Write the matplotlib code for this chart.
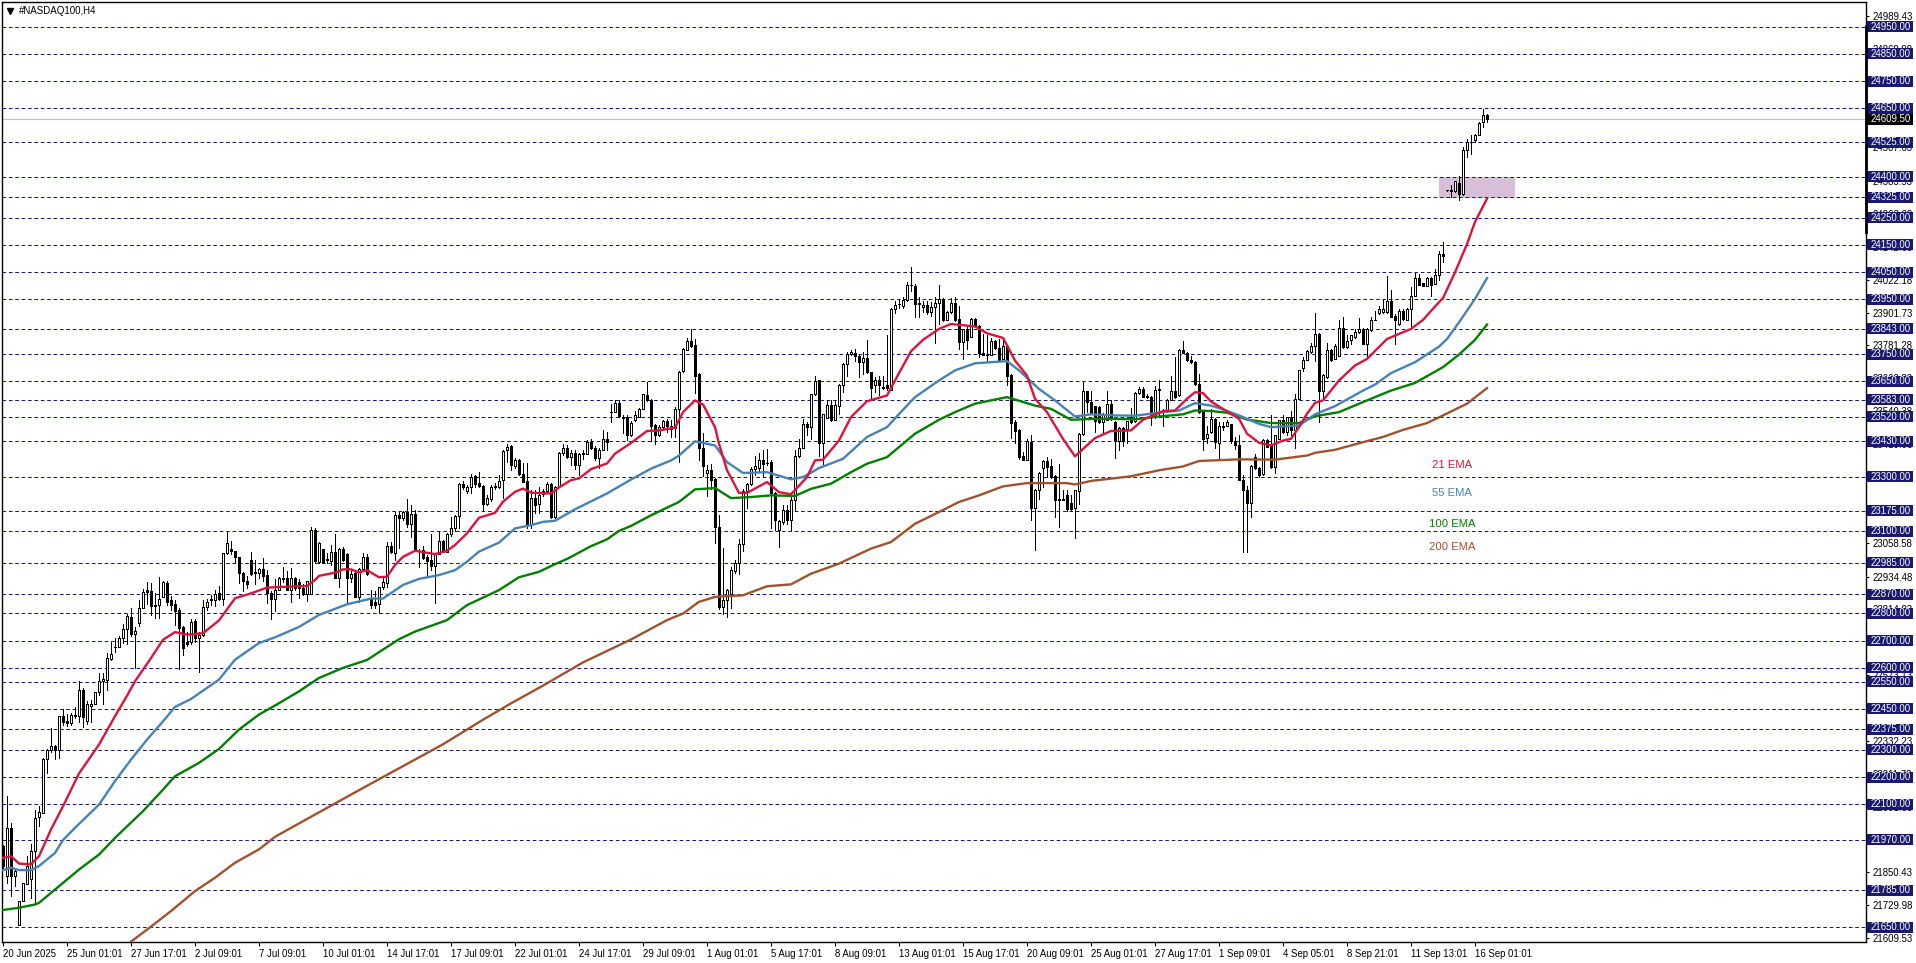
import matplotlib
matplotlib.use("Agg")
import matplotlib.pyplot as plt
from matplotlib.lines import Line2D
from matplotlib.patches import Rectangle
from matplotlib.transforms import blended_transform_factory

candle_open = [
21947,21837,22014,21837,21658,21746,21808,21825,21928,22054,
22069,22266,22300,22315,22300,22422,22404,22398,22428,22422,
22520,22404,22459,22468,22512,22552,22557,22634,22676,22676,
22708,22744,22788,22724,22763,22820,22884,22880,22832,22830,
22860,22910,22848,22833,22811,22748,22696,22693,22770,22710,
22720,22822,22850,22849,22873,22854,23020,23037,23029,23007,
22949,22918,22995,22951,22949,22961,22939,22876,22851,22885,
22930,22930,22887,22930,22915,22894,22872,22872,23104,22989,
23034,22998,22991,23023,22928,23034,23016,22928,22946,22861,
22961,23005,22855,22843,22833,22895,22912,23046,23022,23160,
23148,23172,23126,23163,23030,23032,23007,22995,22974,23017,
23065,23026,23089,23111,23157,23273,23249,23263,23304,23276,
23267,23202,23218,23266,23263,23288,23398,23412,23339,23361,
23312,23284,23123,23224,23199,23249,23249,23272,23154,23266,
23388,23407,23373,23389,23343,23385,23385,23426,23407,23370,
23400,23438,23537,23538,23572,23519,23520,23454,23507,23521,
23549,23601,23582,23491,23455,23482,23503,23488,23480,23549,
23687,23766,23796,23784,23675,23407,23314,23326,23291,23116,
22823,22848,22872,22955,22986,23055,23248,23272,23330,23332,
23360,23351,23354,23242,23104,23134,23180,23141,23216,23376,
23407,23492,23482,23602,23653,23424,23516,23564,23509,23561,
23638,23714,23751,23754,23744,23720,23736,23683,23635,23653,
23626,23635,23619,23915,23933,23927,23948,24004,24001,23936,
23921,23931,23903,23924,23936,23952,23875,23903,23937,23879,
23793,23840,23814,23879,23854,23753,23745,23748,23796,23772,
23732,23781,23674,23500,23472,23375,23363,23427,23187,23250,
23333,23357,23338,23302,23217,23217,23232,23205,23187,23248,
23458,23613,23574,23558,23555,23500,23509,23568,23500,23430,
23479,23476,23521,23503,23608,23622,23596,23594,23519,23620,
23546,23546,23582,23613,23598,23763,23754,23729,23722,23641,
23543,23442,23464,23513,23425,23485,23488,23492,23430,23415,
23289,23253,23204,23372,23333,23309,23436,23415,23336,23439,
23507,23464,23519,23470,23586,23698,23729,23757,23781,23824,
23614,23665,23765,23732,23744,23846,23775,23803,23812,23830,
23842,23785,23838,23876,23899,23903,23903,23946,23891,23860,
23909,23876,23915,23964,24029,24009,24000,24029,24007,24041,
24117,24350,24348,24346,24378,24335,24499,24527,24533,24554,
24600,24627]

candle_close = [
21874,22014,21837,21855,21746,21810,21874,21928,22050,22072,
22266,22300,22312,22300,22422,22400,22398,22428,22422,22520,
22420,22469,22469,22512,22552,22560,22636,22652,22676,22710,
22744,22790,22724,22736,22820,22878,22878,22825,22826,22854,
22915,22842,22830,22809,22745,22674,22689,22768,22711,22720,
22824,22840,22851,22872,22851,23022,23058,23027,23006,22949,
22918,22906,22943,22948,22961,22937,22873,22851,22885,22930,
22924,22887,22930,22894,22892,22870,22918,23105,22992,23059,
22989,22996,23023,22928,23034,22995,22928,22943,22861,22961,
23005,22944,22830,22830,22895,22916,23046,23026,23160,23148,
23172,23126,23163,23032,23028,23004,22993,22974,23017,23065,
23026,23090,23111,23157,23273,23261,23263,23300,23273,23267,
23202,23221,23263,23261,23285,23395,23410,23343,23363,23310,
23282,23123,23224,23196,23235,23237,23272,23154,23263,23388,
23407,23373,23389,23343,23385,23387,23426,23407,23370,23400,
23440,23428,23539,23572,23523,23517,23453,23498,23525,23549,
23602,23580,23488,23452,23482,23503,23488,23476,23549,23683,
23769,23796,23781,23668,23405,23339,23326,23287,23116,22823,
22848,22887,22958,22986,23055,23248,23272,23330,23339,23360,
23348,23350,23241,23141,23137,23180,23141,23216,23378,23407,
23492,23482,23602,23651,23424,23529,23564,23507,23564,23638,
23714,23751,23757,23744,23720,23736,23683,23626,23653,23635,
23628,23626,23915,23931,23935,23948,24004,24004,23934,23934,
23931,23903,23924,23937,23952,23873,23903,23937,23875,23793,
23840,23802,23879,23854,23753,23747,23747,23799,23771,23729,
23779,23669,23497,23468,23372,23363,23430,23186,23253,23314,
23357,23336,23299,23214,23216,23216,23183,23183,23250,23458,
23613,23574,23533,23503,23500,23531,23568,23513,23430,23479,
23430,23503,23500,23607,23622,23594,23594,23519,23619,23618,
23545,23582,23613,23594,23763,23754,23729,23720,23641,23537,
23439,23458,23513,23427,23485,23484,23500,23430,23415,23289,
23253,23204,23339,23332,23305,23436,23411,23336,23452,23507,
23464,23519,23470,23586,23690,23729,23760,23781,23824,23614,
23674,23765,23729,23781,23846,23775,23799,23818,23832,23842,
23787,23842,23875,23876,23915,23915,23946,23887,23873,23909,
23879,23915,23964,24029,24004,24001,24029,24004,24041,24117,
24110,24350,24352,24383,24335,24499,24527,24528,24554,24598,
24627,24609.5]

candle_high = [
21950,22130,22030,21859,21746,21812,21910,21953,22081,22093,
22270,22304,22380,22318,22422,22450,22430,22436,22457,22551,
22526,22478,22484,22512,22580,22582,22654,22694,22710,22716,
22760,22796,22820,22750,22848,22888,22916,22910,22876,22934,
22918,22917,22863,22848,22820,22754,22730,22780,22780,22730,
22848,22854,22866,22884,22900,23022,23100,23065,23030,23007,
22952,22937,23026,22994,22967,23004,22960,22882,22925,22932,
22971,22955,22965,22934,22925,22906,22920,23115,23114,23062,
23036,23020,23050,23090,23038,23044,23020,22960,22958,22965,
23022,23017,22885,22880,22898,22935,23062,23062,23172,23172,
23176,23220,23196,23178,23035,23046,23012,23090,23020,23098,
23070,23095,23151,23160,23276,23285,23270,23310,23308,23316,
23270,23233,23270,23276,23306,23398,23422,23416,23370,23364,
23349,23349,23251,23251,23263,23257,23282,23278,23268,23392,
23420,23416,23398,23398,23388,23398,23434,23440,23412,23407,
23473,23465,23566,23583,23583,23525,23527,23504,23540,23552,
23604,23647,23584,23495,23491,23510,23513,23509,23555,23686,
23772,23808,23842,23805,23680,23460,23344,23348,23295,23159,
23041,22890,22970,22994,23073,23256,23278,23336,23375,23387,
23397,23403,23360,23244,23140,23195,23195,23244,23397,23440,
23513,23500,23604,23668,23655,23531,23582,23582,23582,23640,
23716,23757,23765,23769,23746,23757,23802,23685,23665,23668,
23671,23821,23920,23946,23950,23958,24013,24068,24005,23958,
23945,23946,23940,23960,24004,23955,23909,23955,23960,23927,
23842,23854,23881,23882,23858,23824,23821,23809,23800,23805,
23805,23784,23678,23507,23475,23391,23439,23452,23257,23316,
23360,23372,23366,23305,23346,23253,23250,23232,23253,23460,
23647,23616,23616,23560,23560,23533,23616,23580,23503,23481,
23481,23505,23553,23610,23629,23629,23604,23596,23631,23655,
23549,23585,23668,23738,23767,23799,23757,23744,23725,23677,
23546,23488,23549,23516,23500,23500,23507,23495,23446,23452,
23308,23265,23345,23385,23335,23439,23440,23525,23454,23510,
23525,23521,23543,23602,23692,23738,23765,23790,23900,23826,
23676,23791,23768,23785,23875,23887,23818,23820,23842,23882,
23845,23846,23885,23907,23927,23948,24037,23985,23895,23915,
23915,23917,23997,24046,24043,24012,24032,24032,24062,24129,
24159,24351,24368,24385,24401,24509,24537,24554,24556,24600,
24646,24631]

candle_low = [
21861,21813,21764,21800,21658,21746,21808,21758,21740,22020,
22069,22215,22290,22266,22270,22390,22386,22392,22415,22400,
22384,22396,22400,22468,22500,22468,22520,22630,22660,22676,
22692,22687,22715,22600,22755,22820,22835,22793,22784,22782,
22858,22830,22812,22757,22597,22646,22680,22687,22693,22585,
22715,22812,22830,22827,22848,22830,23018,23018,22988,22912,
22882,22894,22940,22906,22930,22920,22837,22780,22808,22885,
22915,22885,22840,22885,22855,22868,22845,22872,22985,22985,
22985,22985,22977,22928,22897,22990,22836,22916,22858,22843,
22961,22940,22818,22818,22802,22890,22897,23020,22995,23038,
23140,23117,23080,23030,22970,23000,22932,22958,22836,23017,
23024,23026,23085,23100,23111,23255,23242,23240,23263,23262,
23176,23195,23210,23256,23258,23221,23355,23325,23333,23305,
23280,23111,23111,23168,23168,23230,23245,23150,23150,23262,
23379,23370,23343,23330,23306,23367,23383,23403,23362,23334,
23398,23398,23501,23536,23520,23461,23434,23450,23505,23519,
23549,23577,23433,23421,23450,23480,23464,23446,23446,23354,
23685,23764,23776,23607,23360,23303,23230,23256,23058,22817,
22797,22787,22821,22948,22943,23028,23187,23270,23308,23320,
23299,23345,23114,23104,23043,23128,23128,23104,23177,23374,
23405,23454,23439,23600,23378,23346,23514,23505,23507,23530,
23610,23671,23745,23726,23665,23677,23680,23586,23610,23598,
23622,23619,23619,23900,23920,23918,23946,23980,23885,23885,
23903,23897,23891,23790,23860,23870,23873,23901,23872,23769,
23732,23769,23812,23850,23738,23745,23720,23746,23768,23726,
23730,23635,23442,23424,23364,23360,23360,23141,23033,23220,
23263,23299,23297,23153,23116,23214,23175,23180,23077,23202,
23455,23537,23530,23464,23497,23458,23507,23510,23370,23400,
23413,23425,23497,23500,23605,23591,23590,23490,23517,23520,
23485,23544,23580,23590,23595,23752,23726,23718,23638,23534,
23399,23424,23462,23407,23370,23470,23485,23424,23403,23287,
23025,23025,23153,23329,23299,23305,23408,23333,23314,23437,
23461,23452,23452,23407,23584,23687,23727,23755,23724,23500,
23580,23662,23726,23730,23742,23772,23772,23787,23810,23828,
23785,23738,23836,23874,23897,23900,23901,23885,23785,23858,
23876,23874,23854,23962,24002,23998,23998,23964,24005,24023,
24086,24349,24326,24344,24313,24333,24472,24484,24525,24552,
24582,24600]

ema21_bars = [0,2,4,7,9,12,15,19,24,28,31,33,37,40,43,46,50,54,58,62,66,72,76,78,79,83,85,87,89,91,94,96,98,100,103,108,111,113,116,119,123,125,128,130,132,137,139,142,144,147,151,153,157,161,164,168,170,173,175,178,179,181,184,186,191,194,197,201,203,205,209,212,216,221,224,227,230,234,237,243,246,250,253,256,258,261,265,268,273,277,282,285,290,293,296,298,300,302,307,309,311,314,317,320,322,324,326,328,330,334,338,341,346,352,355,358,360,363,366,368,371]
ema21_vals = [21904,21910,21883,21880,21910,22008,22093,22213,22319,22423,22498,22551,22636,22703,22731,22722,22727,22774,22855,22873,22894,22898,22900,22922,22937,22949,22961,22961,22950,22958,22932,22934,22977,23007,23029,23017,23029,23050,23093,23150,23168,23209,23245,23257,23242,23239,23261,23288,23294,23328,23349,23385,23424,23468,23470,23480,23537,23580,23565,23482,23421,23324,23241,23241,23281,23244,23236,23299,23360,23363,23433,23519,23577,23598,23680,23760,23802,23842,23860,23851,23826,23809,23726,23671,23586,23537,23439,23375,23442,23468,23470,23509,23541,23543,23586,23610,23607,23576,23531,23513,23458,23425,23415,23433,23439,23482,23531,23571,23580,23653,23708,23732,23805,23842,23875,23924,23955,24049,24153,24234,24319]

ema55_bars = [0,2,4,7,9,13,15,18,24,28,32,36,40,43,47,54,58,64,68,74,79,86,92,95,100,104,109,113,116,119,124,128,132,135,138,143,151,157,162,167,169,173,178,181,185,191,197,200,204,210,216,221,224,228,234,238,243,251,254,259,263,268,272,278,283,289,294,298,302,304,309,314,317,324,328,333,340,343,347,353,359,361,364,368,371]
ema55_vals = [21859,21868,21859,21859,21874,21922,21969,22014,22099,22185,22264,22337,22404,22457,22486,22557,22630,22691,22712,22750,22794,22833,22854,22854,22904,22926,22940,22958,22989,23026,23059,23111,23123,23135,23139,23181,23239,23290,23330,23360,23378,23430,23415,23354,23314,23317,23291,23299,23332,23366,23446,23482,23530,23592,23653,23690,23716,23724,23690,23622,23580,23521,23529,23525,23524,23535,23543,23570,23561,23552,23525,23494,23482,23488,23529,23559,23616,23638,23680,23720,23777,23805,23866,23952,24028]

ema100_bars = [0,4,8,9,14,19,24,28,35,40,43,49,54,59,64,68,74,79,85,91,99,103,111,116,124,129,134,138,141,147,151,154,157,162,169,173,178,182,187,192,198,202,207,212,216,221,224,228,234,238,243,251,258,262,267,274,283,289,295,298,302,306,311,317,324,328,334,340,347,353,360,364,368,371]
ema100_vals = [21713,21721,21733,21739,21800,21861,21916,21977,22075,22154,22203,22252,22303,22374,22429,22462,22514,22563,22600,22629,22705,22733,22775,22830,22885,22932,22952,22980,22999,23046,23071,23102,23120,23159,23208,23254,23259,23222,23226,23232,23230,23256,23275,23317,23348,23372,23409,23458,23509,23537,23568,23592,23561,23549,23509,23513,23511,23521,23529,23543,23541,23535,23510,23497,23497,23522,23537,23574,23616,23644,23702,23748,23802,23858]

ema200_bars = [32,37,42,48,53,58,64,68,74,90,100,110,120,127,135,145,157,166,170,174,178,185,191,197,202,209,217,222,228,234,239,244,250,256,266,268,272,282,289,295,299,309,318,326,328,333,340,345,350,356,360,366,371]
ema200_vals = [21597,21652,21709,21782,21831,21886,21935,21981,22030,22160,22240,22320,22410,22470,22535,22620,22704,22775,22799,22842,22860,22866,22899,22906,22945,22982,23037,23061,23128,23171,23208,23232,23265,23277,23277,23272,23285,23302,23324,23338,23358,23364,23363,23378,23388,23399,23427,23446,23472,23497,23525,23568,23625]

level_prices = [24950,24850,24750,24650,24525,24400,24325,24250,24150,24050,23950,23843,23750,23650,23583,23520,23430,23300,23175,23100,22985,22870,22800,22700,22600,22550,22450,22375,22300,22200,22100,21970,21785,21650]
axis_ticks = [24989.43,24868.98,24748.53,24628.08,24507.63,24383.53,24263.08,24142.63,24022.18,23901.73,23781.28,23660.83,23540.38,23419.93,23299.48,23179.03,23058.58,22934.48,22814.03,22693.58,22573.13,22452.68,22332.23,22211.78,22091.33,21970.88,21850.43,21729.98,21609.53]
last_price = 24609.50
zone_bars = [359, 378]
zone_prices = [24320, 24400]
date_ticks = [0,16,32,48,64,80,96,112,128,144,160,176,192,208,224,240,256,272,288,304,320,336,352,368]
date_labels = ["20 Jun 2025","25 Jun 01:01","27 Jun 17:01","2 Jul 09:01","7 Jul 09:01","10 Jul 01:01","14 Jul 17:01","17 Jul 09:01","22 Jul 01:01","24 Jul 17:01","29 Jul 09:01","1 Aug 01:01","5 Aug 17:01","8 Aug 09:01","13 Aug 01:01","15 Aug 17:01","20 Aug 09:01","25 Aug 01:01","27 Aug 17:01","1 Sep 09:01","4 Sep 05:01","8 Sep 21:01","11 Sep 13:01","16 Sep 01:01"]
ema_labels = ["21 EMA","55 EMA","100 EMA","200 EMA"]

W, H = 1916, 963
L, R, T, B = 2, 1866, 2, 942
plt.rcParams['font.family'] = ['Liberation Sans', 'DejaVu Sans']
plt.rcParams['lines.scale_dashes'] = False

fig = plt.figure(figsize=(W/100, H/100), dpi=100, facecolor='white')
ax = fig.add_axes([L/W, 1-B/H, (R-L)/W, (B-T)/H])
px = 3.664  # price points per pixel
for s in ax.spines.values():
    s.set_linewidth(1.0); s.set_color('black')

NAVY = '#191970'
ax.add_patch(Rectangle((zone_bars[0], zone_prices[0]), zone_bars[1]-zone_bars[0], zone_prices[1]-zone_prices[0],
                       facecolor='#D8BFD8', edgecolor='none', zorder=1))
for p in level_prices:
    ax.axhline(p, color=NAVY, lw=0.72, ls=(0, (2.6, 2.0)), zorder=1.5)
ax.axhline(last_price, color='#C0C0C0', lw=0.8, zorder=1.5)

n = len(candle_close)
xs = list(range(n))
ax.vlines(xs, candle_low, candle_high, color='black', lw=0.5, zorder=2, antialiased=False)
bott = [min(o, c) for o, c in zip(candle_open, candle_close)]
hgt = [abs(o-c) for o, c in zip(candle_open, candle_close)]
cols = ['white' if c >= o else 'black' for o, c in zip(candle_open, candle_close)]
ax.bar(xs, hgt, width=0.5, bottom=bott, color=cols, edgecolor='black', lw=0.5, zorder=2.2, antialiased=False)

RED, BLUE, GREEN, BROWN = '#DC143C', '#4682B4', '#007F00', '#A0522D'
for bars, vals, col in ((ema200_bars, ema200_vals, BROWN), (ema100_bars, ema100_vals, GREEN),
                        (ema55_bars, ema55_vals, BLUE), (ema21_bars, ema21_vals, RED)):
    ax.plot(bars, vals, color=col, lw=1.7, zorder=3, solid_joinstyle='round')

lab_x = (1452-3)/4
for lab, yp, col in zip(ema_labels, (465, 493, 524, 547), (RED, BLUE, GREEN, BROWN)):
    ax.text(lab_x, 24950-(yp-26.5)*px, lab, color=col, fontsize=8.1, ha='center', va='center', zorder=4)

ax.set_xticks(date_ticks)
ax.set_xticklabels(date_labels, ha='left', fontsize=6.9)
ax.tick_params(axis='x', length=3.2, width=0.8, pad=2, color='black')
ax.yaxis.tick_right()
ax.set_yticks(axis_ticks)
ax.set_yticklabels([f"{v:.2f}" for v in axis_ticks], fontsize=6.9)
ax.tick_params(axis='y', length=2.2, width=0.8, pad=2.2, color='black')

ytr = blended_transform_factory(fig.transFigure, ax.transData)
box_l, box_r = 1867/W, 1913/W
half = 5.5*px
for p in level_prices:
    ax.add_patch(Rectangle((box_l, p-half), box_r-box_l, 2*half, transform=ytr, facecolor=NAVY,
                           edgecolor='none', clip_on=False, zorder=6))
    ax.text(1871/W, p, f"{p:.2f}", transform=ytr, color='white', fontsize=6.9, va='center', ha='left',
            clip_on=False, zorder=7)
ax.add_patch(Rectangle((1866/W, last_price-half), (1913-1866)/W, 2*half, transform=ytr, facecolor='black',
                       edgecolor='none', clip_on=False, zorder=6))
ax.text(1871/W, last_price, f"{last_price:.2f}", transform=ytr, color='white', fontsize=6.9, va='center',
        ha='left', clip_on=False, zorder=7)

ax.set_xlim((L-3)/4, (R-3)/4)
ax.set_ylim(24950-(B-26.5)*px, 24950-(T-26.5)*px)

fig.add_artist(Line2D([1865.8/W, 1865.8/W], [1-26/H, 1-232/H], color='black', lw=2.0, zorder=8))
fig.add_artist(Line2D([10/W], [1-11.5/H], marker='v', ms=4.5, color='black', ls='none'))
fig.text(19/W, 1-11/H, "#NASDAQ100,H4", fontsize=7.0, color='black', va='center', ha='left')

fig.savefig('out.png', dpi=100, facecolor='white')
